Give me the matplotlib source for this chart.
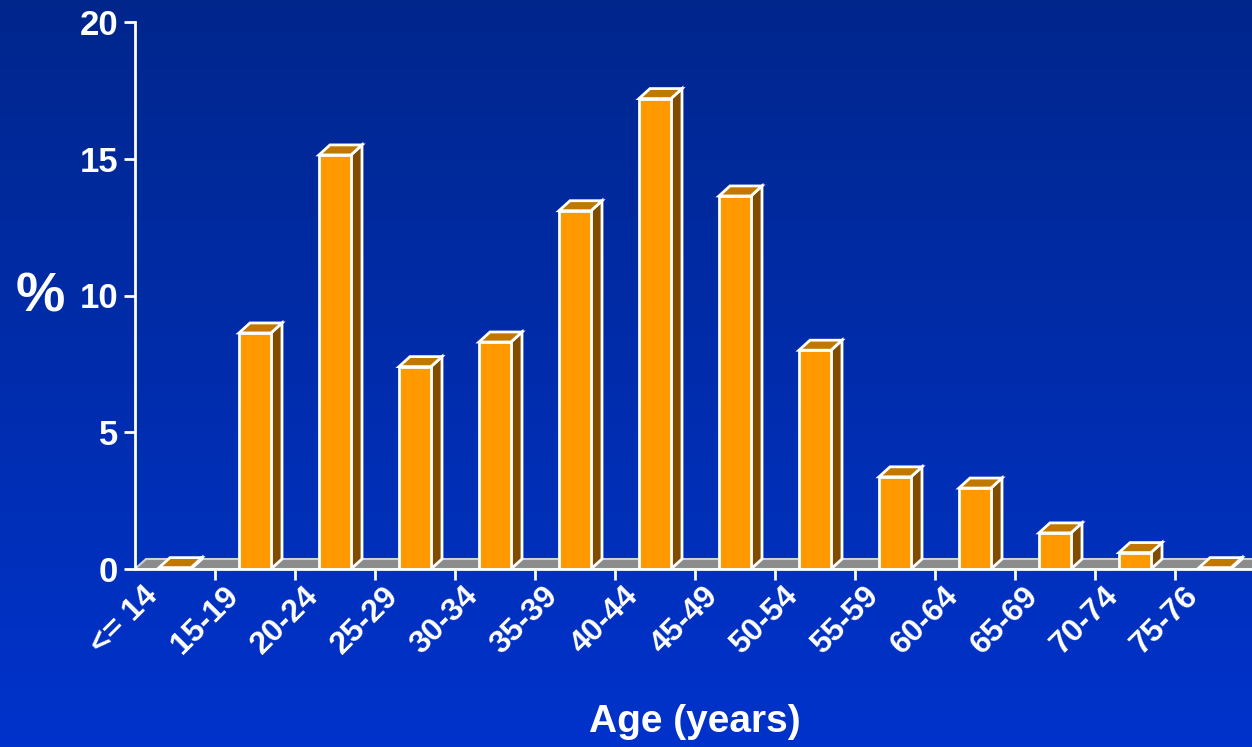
import numpy as np
import matplotlib.pyplot as plt
from matplotlib.patches import Polygon

plt.rcParams['font.family'] = ['Liberation Sans', 'DejaVu Sans']
plt.rcParams['font.weight'] = 'bold'

# Age distribution (%)
age_groups = ['<= 14', '15-19', '20-24', '25-29', '30-34', '35-39', '40-44',
              '45-49', '50-54', '55-59', '60-64', '65-69', '70-74', '75-76']
percent = [0.05, 8.63, 15.14, 7.4, 8.3, 13.1, 17.2,
           13.64, 8.0, 3.37, 2.96, 1.32, 0.6, 0.05]

fig = plt.figure(figsize=(12.52, 7.47), dpi=100)

# blue gradient background
bg = fig.add_axes([0, 0, 1, 1])
grad = np.linspace(0, 1, 256)[:, None]
top = np.array([0.0, 0.15, 0.55])
bot = np.array([0.0, 0.20, 0.80])
img = top + (bot - top) * grad[..., None]
bg.imshow(img, aspect='auto', extent=[0, 1, 0, 1])
bg.axis('off')

W, H = 1252, 747
x0_px, y0_px, y20_px, cat_px = 135, 569, 22, 80
ax = fig.add_axes([x0_px / W, (H - y0_px) / H,
                   14 * cat_px / W, (y0_px - y20_px) / H])
ax.set_facecolor('none')
ax.set_xlim(0, 14)
ax.set_ylim(0, 20)

# depth of the 3d effect in data units
dx = 11 / cat_px
dy = 10 / ((y0_px - y20_px) / 20)

front_c = '#ff9900'
top_c = '#c07800'
side_c = '#7f4c00'
edge = 'white'

# floor
ax.add_patch(Polygon([(0, 0), (14.5, 0), (14.5 + dx, dy), (dx, dy)],
                     closed=True, facecolor='#8c8c8c', edgecolor='#d0d0d0',
                     lw=1.5, clip_on=False, zorder=1))

bw = 0.4
for i, v in enumerate(percent):
    l = i + 0.3
    r = l + bw
    ax.add_patch(Polygon([(r, 0), (r + dx, dy), (r + dx, v + dy), (r, v)],
                         facecolor=side_c, edgecolor=edge, lw=2, zorder=3))
    ax.add_patch(Polygon([(l, v), (r, v), (r + dx, v + dy), (l + dx, v + dy)],
                         facecolor=top_c, edgecolor=edge, lw=2, zorder=3))
    if v > 0.2:
        ax.add_patch(Polygon([(l, 0), (r, 0), (r, v), (l, v)],
                             facecolor=front_c, edgecolor=edge, lw=2, zorder=4))

for s in ['top', 'right']:
    ax.spines[s].set_visible(False)
for s in ['left', 'bottom']:
    ax.spines[s].set_color('white')
    ax.spines[s].set_linewidth(2)
    ax.spines[s].set_zorder(5)

ax.set_yticks([0, 5, 10, 15, 20])
ax.set_xticks(np.arange(1, 14))
ax.set_xticklabels([])
ax.tick_params(colors='white', width=2, length=8, labelsize=25, pad=4)
for t in ax.get_yticklabels():
    t.set_fontweight('bold')

for i, lab in enumerate(age_groups):
    ax.text(i + 0.1, -0.45, lab, rotation=45, ha='right', va='top',
            rotation_mode='anchor', color='white', fontsize=23,
            fontweight='bold')

fig.text(40 / W, 1 - 297 / H, '%', color='white', fontsize=40,
         fontweight='bold', ha='center', va='center')
fig.text(695 / W, 1 - 722 / H, 'Age (years)', color='white', fontsize=28,
         fontweight='bold', ha='center', va='center')

fig.savefig('out.png', dpi=100)
